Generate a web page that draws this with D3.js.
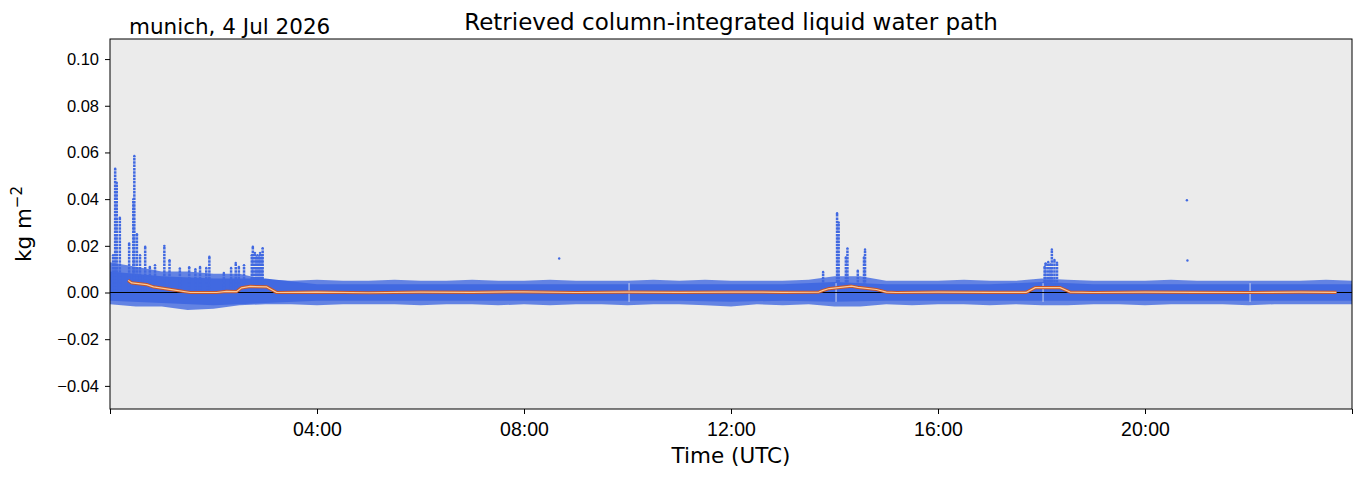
<!DOCTYPE html>
<html>
<head>
<meta charset="utf-8">
<script src="https://cdn.jsdelivr.net/npm/d3@7"></script>
<style>
  body { margin: 0; background: #fff; }
  svg { display: block; font-family: "DejaVu Sans", sans-serif; }
</style>
</head>
<body>
<div id="chart"></div>
<script>
// time in hours (UTC), values in kg m-2

// dense core of the scatter band, hourly
const coreHours = d3.range(0, 25);
const coreUpper = [0.009, 0.007, 0.006, 0.006, 0.0035, 0.0035, 0.0035, 0.0035, 0.0035, 0.0035, 0.0035, 0.0035, 0.0035,
                   0.0035, 0.0045, 0.0035, 0.0035, 0.0035, 0.0045, 0.0035, 0.0035, 0.0035, 0.0035, 0.0035, 0.0035];
const coreLower = [-0.0035, -0.0045, -0.0055, -0.0045, -0.0035, -0.0035, -0.0035, -0.0035, -0.0035, -0.0035, -0.0035, -0.0035, -0.004,
                   -0.0035, -0.004, -0.0035, -0.0035, -0.0035, -0.0035, -0.0035, -0.0035, -0.0035, -0.0035, -0.0035, -0.0035];

// sparse fringe of the scatter band, half-hourly
const fringeHours = d3.range(0, 24.5, 0.5);
const fringeUpper = [0.013, 0.011, 0.009, 0.009, 0.008, 0.008, 0.0055, 0.005, 0.0055, 0.005, 0.005, 0.0055, 0.005,
                     0.005, 0.0055, 0.005, 0.005, 0.0055, 0.005, 0.005, 0.005, 0.0055, 0.005, 0.0055, 0.005,
                     0.005, 0.005, 0.0055, 0.007, 0.007, 0.005, 0.005, 0.005, 0.0055, 0.005, 0.005, 0.006,
                     0.0055, 0.005, 0.005, 0.005, 0.0055, 0.005, 0.005, 0.005, 0.005, 0.005, 0.0055, 0.005];
const fringeLower = [-0.005, -0.006, -0.006, -0.0075, -0.007, -0.0055, -0.005, -0.005, -0.0055, -0.005, -0.005, -0.005, -0.0055,
                     -0.005, -0.005, -0.0055, -0.005, -0.0055, -0.005, -0.005, -0.0055, -0.005, -0.005, -0.0055, -0.006,
                     -0.005, -0.0055, -0.005, -0.006, -0.006, -0.005, -0.0055, -0.005, -0.005, -0.0055, -0.005, -0.0055,
                     -0.0055, -0.005, -0.005, -0.0055, -0.005, -0.005, -0.005, -0.0055, -0.005, -0.005, -0.005, -0.005];

// cloud spikes: time, max value
const spikeTimes = [0.06, 0.10, 0.13, 0.19, 0.37, 0.45, 0.47, 0.52, 0.58, 0.68, 0.77, 0.87, 1.05, 1.15, 1.35, 1.53, 1.65,
                    1.74, 1.86, 1.92, 2.20, 2.34, 2.43, 2.49, 2.59, 2.74, 2.76, 2.80, 2.83, 2.85, 2.88, 2.90, 2.93, 2.95,
                    13.78, 14.05, 14.08, 14.22, 14.25, 14.45, 14.57, 14.59, 18.06, 18.08, 18.13, 18.17, 18.20, 18.25, 18.30];
const spikeValues = [0.016, 0.053, 0.047, 0.032, 0.021, 0.040, 0.0585, 0.025, 0.016, 0.0196, 0.011, 0.0117, 0.020, 0.0138, 0.0103, 0.0108, 0.010,
                     0.011, 0.0105, 0.0153, 0.0084, 0.0105, 0.0127, 0.011, 0.0117, 0.016, 0.0196, 0.017, 0.015, 0.016, 0.015, 0.017, 0.016, 0.019,
                     0.0088, 0.034, 0.030, 0.015, 0.0189, 0.0093, 0.015, 0.0184, 0.011, 0.0125, 0.0131, 0.012, 0.0184, 0.014, 0.0128];

// isolated retrievals
const pointTimes = [8.68, 20.81, 20.82];
const pointValues = [0.0146, 0.0395, 0.0137];

// smoothed series
const smoothTimes = [0.35, 0.42, 0.71, 0.84, 1.22, 1.55, 2.06, 2.25, 2.45, 2.54, 2.71, 3.03, 3.22, 4, 5, 6, 7, 8, 9, 10, 11, 12, 13,
                     13.70, 13.78, 13.90, 14.33, 14.45, 14.81, 15.0, 15.2, 16, 17, 17.71, 17.88, 18.36, 18.55, 19, 20, 21, 22, 23, 23.70];
const smoothValues = [0.0052, 0.0041, 0.0034, 0.0024, 0.0011, 0.0, 0.0, 0.0005, 0.0004, 0.0020, 0.0026, 0.0024, 0.0, 0.0002, -0.0001,
                      0.0002, 0.0001, 0.0003, 0.0, 0.0002, 0.0001, 0.0002, 0.0001, 0.0002, 0.0009, 0.0017, 0.0027, 0.0022, 0.0013,
                      0.0002, 0.0, 0.0002, 0.0001, 0.0001, 0.0021, 0.0021, 0.0002, 0.0, 0.0002, 0.0001, 0.0, 0.0002, 0.0001];

// gaps between data files
const gapTimes = [10.03, 14.03, 18.03, 22.03];

const xTicks = [0, 4, 8, 12, 16, 20, 24];
const xTickLabels = ["", "04:00", "08:00", "12:00", "16:00", "20:00", ""];
const yTicks = [-0.04, -0.02, 0.00, 0.02, 0.04, 0.06, 0.08, 0.10];

const WIDTH = 1363, HEIGHT = 478;
const M = { left: 110, right: 11, top: 39, bottom: 69 };
const BLUE = "#4169e1";

const svg = d3.select("#chart").append("svg")
    .attr("width", WIDTH).attr("height", HEIGHT);

const x = d3.scaleLinear().domain([0, 24]).range([M.left, WIDTH - M.right]);
const y = d3.scaleLinear().domain([-0.0499, 0.1086]).range([HEIGHT - M.bottom, M.top]);

// axes background
svg.append("rect")
    .attr("x", M.left).attr("y", M.top)
    .attr("width", WIDTH - M.left - M.right).attr("height", HEIGHT - M.top - M.bottom)
    .attr("fill", "#ebebeb");

const plot = svg.append("g");

// scatter band
const fringe = fringeHours.map((t, i) => [t, fringeLower[i], fringeUpper[i]]);
const core = coreHours.map((t, i) => [t, coreLower[i], coreUpper[i]]);
const band = d3.area().x(d => x(d[0])).y0(d => y(d[1])).y1(d => y(d[2]));

plot.append("path").datum(fringe)
    .attr("d", band).attr("fill", BLUE).attr("opacity", 0.8);
plot.append("path").datum(core)
    .attr("d", band).attr("fill", BLUE);

// spikes
const spikes = spikeTimes.map((t, i) => [t, spikeValues[i]]);
plot.selectAll(".spike").data(spikes).enter()
    .append("line")
    .attr("class", "spike")
    .attr("x1", d => x(d[0])).attr("x2", d => x(d[0]))
    .attr("y1", y(0)).attr("y2", d => y(d[1]))
    .attr("stroke", BLUE).attr("stroke-width", 2.5)
    .attr("stroke-dasharray", "2.5,0.8");
plot.selectAll(".tip").data(spikes.concat(pointTimes.map((t, i) => [t, pointValues[i]]))).enter()
    .append("circle")
    .attr("class", "tip")
    .attr("cx", d => x(d[0])).attr("cy", d => y(d[1]))
    .attr("r", 1.2).attr("fill", BLUE);

// data gaps
plot.selectAll(".gap").data(gapTimes).enter()
    .append("line")
    .attr("x1", d => x(d)).attr("x2", d => x(d))
    .attr("y1", y(-0.004)).attr("y2", y(0.004))
    .attr("stroke", "#f2f2f2").attr("stroke-width", 0.8);

// zero line
plot.append("line")
    .attr("x1", x(0)).attr("x2", x(24))
    .attr("y1", y(0)).attr("y2", y(0))
    .attr("stroke", "#000").attr("stroke-width", 1.2);

// smoothed line
const smooth = smoothTimes.map((t, i) => [t, smoothValues[i]]);
const line = d3.line().x(d => x(d[0])).y(d => y(d[1]));
plot.append("path").datum(smooth)
    .attr("d", line).attr("fill", "none")
    .attr("stroke", "#c8552a").attr("stroke-width", 3.2).attr("stroke-linejoin", "round");
plot.append("path").datum(smooth)
    .attr("d", line).attr("fill", "none")
    .attr("stroke", "#fbc996").attr("stroke-width", 1.2).attr("stroke-linejoin", "round");

// frame
svg.append("rect")
    .attr("x", M.left).attr("y", M.top)
    .attr("width", WIDTH - M.left - M.right).attr("height", HEIGHT - M.top - M.bottom)
    .attr("fill", "none").attr("stroke", "#000").attr("stroke-width", 1);

// axes
const xAxis = svg.append("g")
    .attr("transform", `translate(0,${HEIGHT - M.bottom})`)
    .call(d3.axisBottom(x).tickValues(xTicks).tickFormat((d, i) => xTickLabels[i]).tickSize(5).tickPadding(8));
xAxis.select(".domain").remove();
xAxis.selectAll("text").attr("font-size", 19.5).attr("fill", "#000");

const yAxis = svg.append("g")
    .attr("transform", `translate(${M.left},0)`)
    .call(d3.axisLeft(y).tickValues(yTicks).tickFormat(d => d3.format(".2f")(d).replace("-", "\u2212")).tickSize(5).tickPadding(6));
yAxis.select(".domain").remove();
yAxis.selectAll("text").attr("font-size", 16.5).attr("fill", "#000");

// labels
svg.append("text")
    .attr("x", (M.left + WIDTH - M.right) / 2).attr("y", 30)
    .attr("text-anchor", "middle").attr("font-size", 23)
    .text("Retrieved column-integrated liquid water path");

svg.append("text")
    .attr("x", 129).attr("y", 34)
    .attr("font-size", 21.5)
    .text("munich, 4 Jul 2026");

svg.append("text")
    .attr("x", (M.left + WIDTH - M.right) / 2).attr("y", 463)
    .attr("text-anchor", "middle").attr("font-size", 21.5)
    .text("Time (UTC)");

const yl = svg.append("text")
    .attr("transform", `translate(31,${(M.top + HEIGHT - M.bottom) / 2}) rotate(-90)`)
    .attr("text-anchor", "middle").attr("font-size", 21.5);
yl.append("tspan").text("kg m");
yl.append("tspan").attr("dy", -9).attr("font-size", 15).text("\u22122");
</script>
</body>
</html>
